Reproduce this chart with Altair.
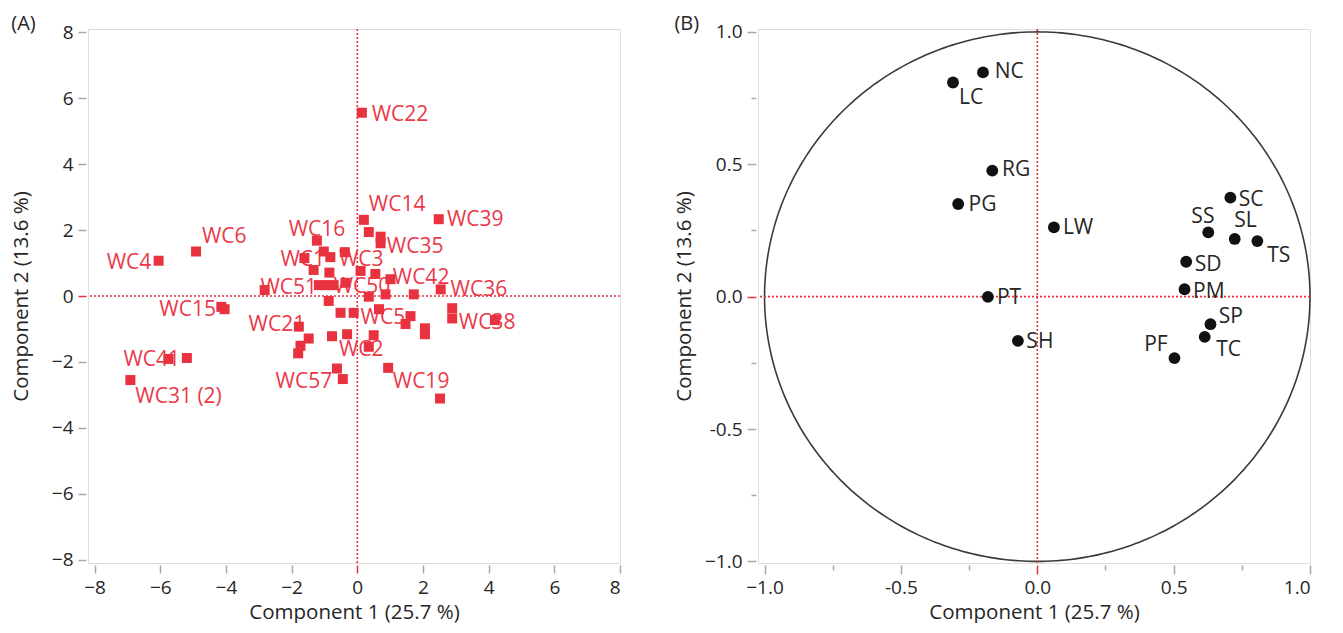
import altair as alt
import pandas as pd
import numpy as np

FONT = "Open Sans"
RED = "#e8323f"
RED_TXT = "#ea3a4a"
GRAY = "#a8a8a8"
TXT = "#262626"

# ---------------- Panel A: scores ----------------
score_x = [0.14, 0.20, 0.35, 0.71, 0.71, 2.48, -1.23, -1.02, -0.82, -0.38,
           -1.61, -1.33, -0.85, 0.10, 0.55, 1.01, -2.82, -1.17, -0.95, -0.72,
           -0.36, 0.35, 0.86, 1.72, 2.54, -0.87, -0.51, -0.11, 0.66, 1.62,
           1.47, 2.06, 2.06, 2.89, 2.89, 4.19, -1.78, -1.48, -1.73, -1.80,
           -0.77, -0.31, 0.50, 0.35, -0.62, -0.44, 0.94, 2.52, -6.05, -4.91,
           -4.14, -4.04, -5.75, -5.19, -6.91]
score_y = [5.56, 2.31, 1.94, 1.80, 1.60, 2.33, 1.68, 1.35, 1.18, 1.33,
           1.15, 0.79, 0.71, 0.76, 0.67, 0.51, 0.18, 0.33, 0.33, 0.33,
           0.40, -0.02, 0.05, 0.05, 0.20, -0.15, -0.51, -0.51, -0.40, -0.61,
           -0.85, -0.98, -1.16, -0.37, -0.68, -0.73, -0.93, -1.29, -1.51, -1.74,
           -1.22, -1.16, -1.19, -1.54, -2.20, -2.52, -2.18, -3.11, 1.07, 1.35,
           -0.33, -0.40, -1.91, -1.88, -2.55]

score_labels = ["WC22", "WC14", "WC39", "WC35", "WC16", "WC3", "WC1", "WC42",
                "WC36", "WC38", "WC5", "WC50", "WC51", "WC21", "WC2", "WC57",
                "WC19", "WC15", "WC4", "WC6", "WC41", "WC31 (2)"]
score_lab_x = [0.44, 0.35, 2.73, 0.90, -2.09, -0.56, -2.34, 1.08,
               2.84, 3.09, 0.10, -0.72, -2.95, -3.31, -0.56, -2.49,
               1.08, -6.03, -7.63, -4.73, -7.12, -6.76]
score_lab_y = [5.50, 2.77, 2.31, 1.50, 2.01, 1.09, 1.09, 0.54,
               0.18, -0.83, -0.68, 0.27, 0.23, -0.88, -1.64, -2.62,
               -2.62, -0.43, 0.99, 1.80, -1.95, -3.06]

a_ticks = [-8, -6, -4, -2, 0, 2, 4, 6, 8]

# ---------------- Panel B: loadings ----------------
load_names = ["NC", "LC", "RG", "PG", "LW", "PT", "SH", "SC", "SS", "SL",
              "TS", "SD", "PM", "SP", "TC", "PF"]
load_x = [-0.199, -0.309, -0.165, -0.290, 0.061, -0.181, -0.071, 0.708, 0.627,
          0.724, 0.807, 0.546, 0.540, 0.635, 0.614, 0.503]
load_y = [0.847, 0.809, 0.476, 0.350, 0.262, -0.001, -0.167, 0.374, 0.243,
          0.218, 0.210, 0.132, 0.028, -0.104, -0.152, -0.232]
load_lab_x = [-0.156, -0.287, -0.129, -0.252, 0.094, -0.148, -0.040, 0.739,
              0.565, 0.722, 0.843, 0.577, 0.571, 0.665, 0.656, 0.392]
load_lab_y = [0.850, 0.750, 0.479, 0.346, 0.259, -0.006, -0.172, 0.365,
              0.302, 0.287, 0.153, 0.119, 0.018, -0.076, -0.202, -0.184]

b_ticks = [-1.0, -0.75, -0.5, -0.25, 0.0, 0.25, 0.5, 0.75, 1.0]

# unit circle (reference shape)
theta = np.linspace(0, 2 * np.pi, 361)
circle = pd.DataFrame({"cx": np.cos(theta), "cy": np.sin(theta), "o": np.arange(361)})

scores = pd.DataFrame({"x": score_x, "y": score_y})
score_lab = pd.DataFrame({"t": score_labels, "x": score_lab_x, "y": score_lab_y})
loads = pd.DataFrame({"n": load_names, "x": load_x, "y": load_y})
load_lab = pd.DataFrame({"t": load_names, "x": load_lab_x, "y": load_lab_y})

zero_tick = {"condition": {"test": "datum.value === 0", "value": RED}, "value": GRAY}

def axis_common(title, values, **kw):
    return alt.Axis(title=title, values=values, grid=False, domain=False,
                    tickColor=zero_tick, tickWidth=1.5, offset=2,
                    labelFont=FONT, labelFontSize=19, labelColor=TXT,
                    titleFont=FONT, titleFontSize=20.5, titleColor=TXT,
                    titleFontWeight="normal", **kw)

# ---- Panel A
xA = alt.Scale(domain=[-8.2, 8], nice=False, zero=False)
yA = alt.Scale(domain=[-8.1, 8.1], nice=False, zero=False)
ax_xA = axis_common("Component 1  (25.7 %)", a_ticks, tickSize=8, labelPadding=5, titlePadding=5)
ax_yA = axis_common("Component 2  (13.6 %)", a_ticks, tickSize=8, labelPadding=5, titlePadding=20)

ref_a = pd.DataFrame({"v": [0]})
vlineA = alt.Chart(ref_a).mark_rule(color=RED, strokeDash=[2, 2], strokeWidth=1.6).encode(
    x=alt.X("v:Q", scale=xA, axis=ax_xA))
hlineA = alt.Chart(ref_a).mark_rule(color=RED, strokeDash=[2, 2], strokeWidth=1.6).encode(
    y=alt.Y("v:Q", scale=yA, axis=ax_yA))
labA = alt.Chart(score_lab).mark_text(align="left", baseline="middle", font=FONT,
                                      fontSize=21, color=RED_TXT).encode(
    x=alt.X("x:Q", scale=xA), y=alt.Y("y:Q", scale=yA), text="t:N")
ptsA = alt.Chart(scores).mark_square(size=100, color=RED, opacity=1).encode(
    x=alt.X("x:Q", scale=xA), y=alt.Y("y:Q", scale=yA))

panelA = alt.layer(vlineA, hlineA, labA, ptsA).properties(
    width=532, height=534,
    title=alt.TitleParams("(A)", anchor="start", frame="bounds", font=FONT,
                          fontSize=20, fontWeight="normal", color=TXT, offset=-11))

# ---- Panel B
minor = "abs(datum.value*2 - round(datum.value*2)) > 0.01"
b_label = ("abs(datum.value*2 - round(datum.value*2)) > 0.01 ? '' : "
           "(datum.value < -0.9 ? '\u22121.0' : replace(format(datum.value, '.1f'), '\u2212', '-'))")
b_tick = {"condition": {"test": minor, "value": 5}, "value": 9}
xB = alt.Scale(domain=[-1.024, 1.0], nice=False, zero=False)
yB = alt.Scale(domain=[-1.006, 1.011], nice=False, zero=False)
ax_xB = axis_common("Component 1  (25.7 %)", b_ticks, tickSize=b_tick, labelPadding=4,
                    titlePadding=5, labelExpr=b_label)
ax_yB = axis_common("Component 2  (13.6 %)", b_ticks, tickSize=b_tick, labelPadding=5,
                    titlePadding=10, labelExpr=b_label)

circ = alt.Chart(circle).mark_line(color="#3a3a3a", strokeWidth=1.6).encode(
    x=alt.X("cx:Q", scale=xB, axis=ax_xB), y=alt.Y("cy:Q", scale=yB, axis=ax_yB),
    order="o:Q")
vlineB = alt.Chart(ref_a).mark_rule(color=RED, strokeDash=[2, 2], strokeWidth=1.6).encode(
    x=alt.X("v:Q", scale=xB))
hlineB = alt.Chart(ref_a).mark_rule(color=RED, strokeDash=[2, 2], strokeWidth=1.6).encode(
    y=alt.Y("v:Q", scale=yB))
labB = alt.Chart(load_lab).mark_text(align="left", baseline="middle", font=FONT,
                                     fontSize=21, color=TXT).encode(
    x=alt.X("x:Q", scale=xB), y=alt.Y("y:Q", scale=yB), text="t:N")
ptsB = alt.Chart(loads).mark_circle(size=140, color="#111111", opacity=1).encode(
    x=alt.X("x:Q", scale=xB), y=alt.Y("y:Q", scale=yB))

panelB = alt.layer(circ, vlineB, hlineB, labB, ptsB).properties(
    width=552, height=534,
    title=alt.TitleParams("(B)", anchor="start", frame="bounds", font=FONT,
                          fontSize=20, fontWeight="normal", color=TXT, offset=-11))

chart = alt.hconcat(panelA, panelB, spacing=51).properties(
    padding={"left": 10, "top": 13, "right": 5, "bottom": 0}
).configure_view(stroke=GRAY, strokeWidth=1.5).configure(background="white")

chart.save("out.html", embed_options={"renderer": "svg", "actions": False})
